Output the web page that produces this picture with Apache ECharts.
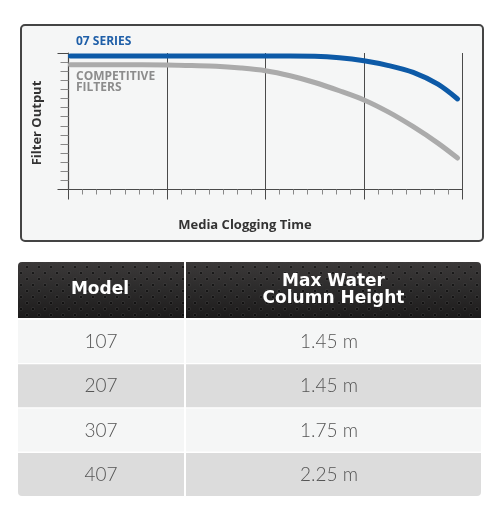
<!DOCTYPE html>
<html>
<head>
<meta charset="utf-8">
<script src="https://cdn.jsdelivr.net/npm/echarts@6/dist/echarts.min.js"></script>
<style>
    html, body { margin: 0; padding: 0; background: #fff; }
    #main { width: 503px; height: 525px; }
</style>
</head>
<body>
<div id="main"></div>
<script>
// curves (x = clogging time, 0..4; y = output, 0..15)
var clogTime = [0.02, 0.5, 1.0, 1.25, 1.5, 1.75, 2.0, 2.25, 2.5, 2.75, 3.0, 3.25, 3.5, 3.75, 3.95];
var output07 = [14.67, 14.67, 14.67, 14.67, 14.67, 14.67, 14.67, 14.67, 14.65, 14.49, 14.15, 13.62, 12.87, 11.57, 9.95];
var outputComp = [13.7, 13.7, 13.68, 13.62, 13.55, 13.35, 13.05, 12.5, 11.76, 10.85, 9.84, 8.5, 6.9, 5.1, 3.46];

var models = ['107', '207', '307', '407'];
var heights = ['1.45 m', '1.45 m', '1.75 m', '2.25 m'];
var headers = ['Model', 'Max Water\nColumn Height'];

~function () {
    var myChart = echarts.init(document.getElementById('main'));

    function pairs(xs, ys) {
        return xs.map(function (x, i) { return [x, ys[i]]; });
    }

    // dotted texture for the table header
    var dots = document.createElement('canvas');
    dots.width = 12; dots.height = 12;
    var ctx = dots.getContext('2d');
    [[3, 3], [9, 9]].forEach(function (p) {
        ctx.beginPath();
        ctx.arc(p[0], p[1], 1.6, 0, Math.PI * 2);
        ctx.fillStyle = 'rgba(0,0,0,0.55)';
        ctx.fill();
        ctx.strokeStyle = 'rgba(255,255,255,0.10)';
        ctx.lineWidth = 0.8;
        ctx.stroke();
    });

    var darkLine = '#4a4a4a';
    var graphics = [
        {
            type: 'rect', z: -10,
            shape: {x: 21, y: 25, width: 462, height: 216, r: 4},
            style: {fill: '#f5f6f6', stroke: '#444', lineWidth: 2}
        },
        {
            type: 'text', left: 76, top: 36, z: 10,
            style: {text: '07 SERIES', fill: '#1f5fa8', font: 'bold 12px "Open Sans"'}
        },
        {
            type: 'text', left: 76, top: 71, z: 10,
            style: {text: 'COMPETITIVE\nFILTERS', fill: '#8c8c8c', font: 'bold 12px "Open Sans"', lineHeight: 11}
        },
        {
            type: 'text', z: 10,
            x: 37, y: 123, rotation: Math.PI / 2,
            style: {text: 'Filter Output', fill: '#333', font: 'bold 13px "Open Sans"', align: 'center', verticalAlign: 'middle'}
        },
        {
            type: 'text', z: 10,
            x: 245, y: 225,
            style: {text: 'Media Clogging Time', fill: '#333', font: 'bold 13px "Open Sans"', align: 'center', verticalAlign: 'middle'}
        }
    ];

    // table
    var colX = [18, 186];
    var colW = [166, 295];
    var headTop = 262, headH = 56;
    colX.forEach(function (x, c) {
        var r = c === 0 ? [4, 0, 0, 0] : [0, 4, 0, 0];
        graphics.push({
            type: 'rect',
            shape: {x: x, y: headTop, width: colW[c], height: headH, r: r},
            style: {fill: new echarts.graphic.LinearGradient(0, 0, 0, 1, [
                {offset: 0, color: '#3b3939'},
                {offset: 1, color: '#1d1c1c'}
            ])}
        });
        graphics.push({
            type: 'rect',
            shape: {x: x, y: headTop, width: colW[c], height: headH, r: r},
            style: {fill: {image: dots, repeat: 'repeat'}}
        });
        graphics.push({
            type: 'text', z: 5,
            x: x + colW[c] / 2 - (c === 1 ? 0 : 1), y: headTop + 28,
            style: {text: headers[c], fill: '#fff', font: 'bold 17px "DejaVu Sans"',
                    lineHeight: 17, align: 'center', verticalAlign: 'middle'}
        });
    });
    models.forEach(function (m, i) {
        var y = 320 + i * 44.3;
        var fill = i % 2 === 0 ? '#f5f6f6' : '#dcdcdc';
        var last = i === models.length - 1;
        graphics.push({
            type: 'rect',
            shape: {x: colX[0], y: y, width: colW[0], height: 43, r: last ? [0, 0, 0, 4] : 0},
            style: {fill: fill}
        });
        graphics.push({
            type: 'rect',
            shape: {x: colX[1], y: y, width: colW[1], height: 43, r: last ? [0, 0, 4, 0] : 0},
            style: {fill: fill}
        });
        graphics.push({
            type: 'text', z: 5, x: 101, y: y + 22,
            style: {text: m, fill: '#555', font: '300 19px Lato', align: 'center', verticalAlign: 'middle'}
        });
        graphics.push({
            type: 'text', z: 5, x: 329, y: y + 22,
            style: {text: heights[i], fill: '#555', font: '300 19px Lato', align: 'center', verticalAlign: 'middle'}
        });
    });

    var option = {
        animation: false,
        grid: {left: 68.5, top: 53, right: 40.5, bottom: 335.5},
        graphic: graphics,
        xAxis: {
            type: 'value', min: 0, max: 4, interval: 1,
            axisLine: {show: true, lineStyle: {color: darkLine, width: 1.2}},
            axisTick: {show: true, length: 10, lineStyle: {color: darkLine}},
            minorTick: {show: true, splitNumber: 7, length: 5, lineStyle: {color: '#888'}},
            splitLine: {show: true, lineStyle: {color: darkLine, width: 1}},
            axisLabel: {show: false}
        },
        yAxis: [
            {
                type: 'value', min: 0, max: 15, interval: 1,
                axisLine: {show: true, lineStyle: {color: darkLine, width: 1.2}},
                axisTick: {show: true, length: 8, lineStyle: {color: '#888'}},
                splitLine: {show: false},
                axisLabel: {show: false}
            },
            {
                type: 'value', min: 0, max: 15, interval: 15, position: 'left',
                axisLine: {show: false},
                axisTick: {show: true, length: 11, lineStyle: {color: darkLine}},
                splitLine: {show: false},
                axisLabel: {show: false}
            }
        ],
        series: [
            {
                name: 'Competitive Filters',
                type: 'line',
                smooth: 0.3,
                symbol: 'none',
                lineStyle: {color: '#ababab', width: 5, cap: 'round'},
                data: pairs(clogTime, outputComp)
            },
            {
                name: '07 Series',
                type: 'line',
                smooth: 0.3,
                symbol: 'none',
                lineStyle: {color: '#0d5aa7', width: 5, cap: 'round'},
                data: pairs(clogTime, output07)
            }
        ]
    };
    myChart.setOption(option);
}();
</script>
</body>
</html>
